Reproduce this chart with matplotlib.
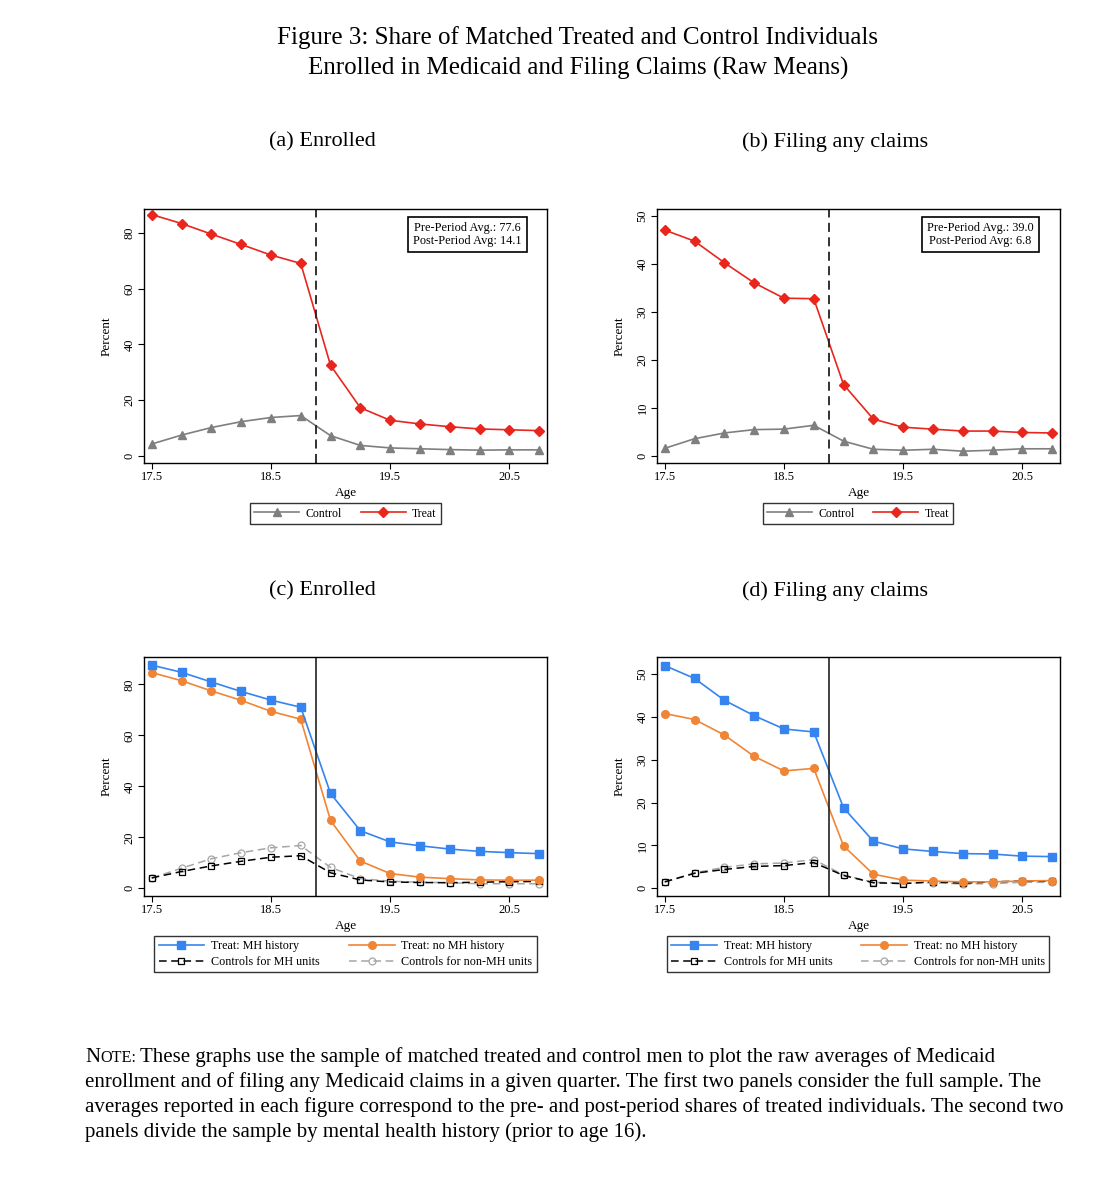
import numpy as np
import matplotlib
matplotlib.use('Agg')
import matplotlib.pyplot as plt

plt.rcParams['font.family'] = ['Liberation Serif', 'DejaVu Serif']

# quarters of age
age = [17.5, 17.75, 18.0, 18.25, 18.5, 18.75, 19.0, 19.25, 19.5, 19.75, 20.0, 20.25, 20.5, 20.75]
cutoff = 18.875

# panel a - enrolled
a_control = [4.3, 7.5, 10.2, 12.3, 13.8, 14.5, 7.3, 3.8, 2.9, 2.6, 2.3, 2.1, 2.2, 2.2]
a_treat = [86.5, 83.3, 79.5, 75.8, 72.0, 69.0, 32.5, 17.3, 12.8, 11.5, 10.5, 9.7, 9.4, 9.1]
# panel b - filing claims
b_control = [1.6, 3.6, 4.8, 5.5, 5.6, 6.4, 3.1, 1.4, 1.2, 1.4, 1.0, 1.2, 1.5, 1.5]
b_treat = [47.1, 44.8, 40.3, 36.1, 32.9, 32.8, 14.9, 7.7, 6.0, 5.6, 5.2, 5.2, 4.9, 4.8]
# panel c - enrolled by MH history
c_mh = [87.5, 84.7, 80.9, 77.2, 73.8, 71.0, 37.2, 22.6, 18.2, 16.7, 15.4, 14.5, 14.0, 13.6]
c_nomh = [84.6, 81.4, 77.4, 73.7, 69.4, 66.3, 26.6, 10.7, 5.8, 4.4, 3.8, 3.3, 3.2, 3.2]
c_ctrl_mh = [4.1, 6.6, 8.8, 10.6, 12.2, 12.8, 6.1, 3.3, 2.5, 2.3, 2.2, 2.4, 2.6, 2.7]
c_ctrl_nomh = [4.0, 7.9, 11.6, 14.0, 15.9, 16.8, 8.2, 3.8, 2.8, 2.4, 2.2, 1.8, 1.8, 1.8]
# panel d - filing claims by MH history
d_mh = [52.0, 49.0, 43.9, 40.3, 37.2, 36.5, 18.8, 11.0, 9.2, 8.6, 8.1, 8.0, 7.5, 7.4]
d_nomh = [40.8, 39.4, 35.8, 30.8, 27.4, 28.0, 9.9, 3.3, 1.9, 1.7, 1.5, 1.5, 1.7, 1.8]
d_ctrl_mh = [1.5, 3.5, 4.4, 5.1, 5.3, 6.0, 3.0, 1.3, 1.1, 1.5, 1.2, 1.5, 1.7, 1.7]
d_ctrl_nomh = [1.5, 3.6, 4.9, 5.7, 5.9, 6.7, 3.1, 1.4, 1.2, 1.3, 1.0, 1.1, 1.4, 1.4]

avg_a = ['Pre-Period Avg.: 77.6', 'Post-Period Avg: 14.1']
avg_b = ['Pre-Period Avg.: 39.0', 'Post-Period Avg: 6.8']

W, H = 1113, 1200
fig = plt.figure(figsize=(W / 100, H / 100), dpi=100)


def rect(l, t, r, b):
    return [l / W, 1 - b / H, (r - l) / W, (b - t) / H]


def fpos(x, y):
    return (x / W, 1 - y / H)


def style_ax(ax, yticks, ylim):
    ax.set_xlim(17.435, 20.816)
    ax.set_ylim(*ylim)
    ax.set_xticks([17.5, 18.5, 19.5, 20.5])
    ax.set_xticklabels(['17.5', '18.5', '19.5', '20.5'])
    ax.set_yticks(yticks)
    ax.set_yticklabels([str(v) for v in yticks], rotation=90, va='center')
    ax.tick_params(direction='out', length=4, width=0.8, labelsize=9, pad=2)
    for s in ax.spines.values():
        s.set_linewidth(1.0)
    ax.set_xlabel('Age', fontsize=9.5, labelpad=3)
    ax.set_ylabel('Percent', fontsize=9.5, labelpad=8)


def legend(handles, labels, center, colsp=1.6, fs=8.5):
    lg = fig.legend(handles, labels, loc='center', bbox_to_anchor=fpos(*center), ncol=2,
                    fontsize=fs, frameon=True, fancybox=False, edgecolor='black', handlelength=3.8,
                    columnspacing=colsp, borderpad=0.35, handletextpad=0.55, labelspacing=0.3)
    lg.get_frame().set_linewidth(1.0)


red = '#e8261e'
gray = '#7f7f7f'
blue = '#3584f0'
orange = '#f08536'

# top panels
for pos, ctrl, treat, yt, yl, avg, title, tx, lx in [
        ((144, 209, 547, 463), a_control, a_treat, [0, 20, 40, 60, 80], (-2.5, 88.5), avg_a, '(a) Enrolled', 322, 345.5),
        ((657, 209, 1060, 463), b_control, b_treat, [0, 10, 20, 30, 40, 50], (-1.46, 51.5), avg_b, '(b) Filing any claims', 835, 858)]:
    ax = fig.add_axes(rect(*pos))
    l1, = ax.plot(age, ctrl, color=gray, lw=1.2, marker='^', ms=6)
    l2, = ax.plot(age, treat, color=red, lw=1.2, marker='D', ms=5.5)
    ax.axvline(cutoff, color='#222222', lw=1.3, ls=(0, (5, 3)))
    style_ax(ax, yt, yl)
    ax.text(0.803, 0.9, avg[0] + '\n' + avg[1], transform=ax.transAxes, ha='center', va='center',
            fontsize=8.8, linespacing=1.05,
            bbox=dict(boxstyle='square,pad=0.45', fc='white', ec='black', lw=1.2))
    fig.text(*fpos(tx, 142), title, ha='center', va='center', fontsize=16)
    legend([l1, l2], ['Control', 'Treat'], (lx, 513.5))

# bottom panels
for pos, mh, nomh, cmh, cnomh, yt, yl, title, tx, lx in [
        ((144, 657, 547, 896), c_mh, c_nomh, c_ctrl_mh, c_ctrl_nomh, [0, 20, 40, 60, 80], (-3.0, 90.7), '(c) Enrolled', 322, 345.5),
        ((657, 657, 1060, 896), d_mh, d_nomh, d_ctrl_mh, d_ctrl_nomh, [0, 10, 20, 30, 40, 50], (-1.8, 54), '(d) Filing any claims', 835, 858)]:
    ax = fig.add_axes(rect(*pos))
    l4, = ax.plot(age, cnomh, color='#a6a6a6', lw=1.1, ls=(0, (5, 3)), marker='o', ms=5, mfc='none', mew=0.9)
    l3, = ax.plot(age, cmh, color='black', lw=1.1, ls=(0, (5, 3)), marker='s', ms=5, mfc='none', mew=0.9)
    l2, = ax.plot(age, nomh, color=orange, lw=1.2, marker='o', ms=5.5)
    l1, = ax.plot(age, mh, color=blue, lw=1.2, marker='s', ms=5.5)
    ax.axvline(cutoff, color='#222222', lw=1.2)
    style_ax(ax, yt, yl)
    fig.text(*fpos(tx, 591), title, ha='center', va='center', fontsize=16)
    legend([l1, l3, l2, l4],
           ['Treat: MH history', 'Controls for MH units', 'Treat: no MH history', 'Controls for non-MH units'],
           (lx, 954), colsp=2.4, fs=8.7)

# main title
fig.text(*fpos(578, 38), 'Figure 3: Share of Matched Treated and Control Individuals', ha='center', va='center', fontsize=18)
fig.text(*fpos(578, 68), 'Enrolled in Medicaid and Filing Claims (Raw Means)', ha='center', va='center', fontsize=18)

# note with small caps "NOTE:"
note_lines = [
    'These graphs use the sample of matched treated and control men to plot the raw averages of Medicaid',
    'enrollment and of filing any Medicaid claims in a given quarter. The first two panels consider the full sample. The',
    'averages reported in each figure correspond to the pre- and post-period shares of treated individuals. The second two',
    'panels divide the sample by mental health history (prior to age 16).',
]
fs_note = 15.05
r = fig.canvas.get_renderer()
x0, y0 = 85, 1062
t1 = fig.text(*fpos(x0, y0), 'N', fontsize=fs_note, va='baseline')
w1 = t1.get_window_extent(r).width
t2 = fig.text(*fpos(x0 + w1, y0), 'OTE:', fontsize=fs_note * 0.78, va='baseline')
w2 = t2.get_window_extent(r).width
fig.text(*fpos(x0 + w1 + w2 + 4, y0), note_lines[0], fontsize=fs_note, va='baseline')
for i, line in enumerate(note_lines[1:]):
    fig.text(*fpos(x0, y0 + 25 * (i + 1)), line, fontsize=fs_note, va='baseline')

fig.savefig('out.png', dpi=100)
